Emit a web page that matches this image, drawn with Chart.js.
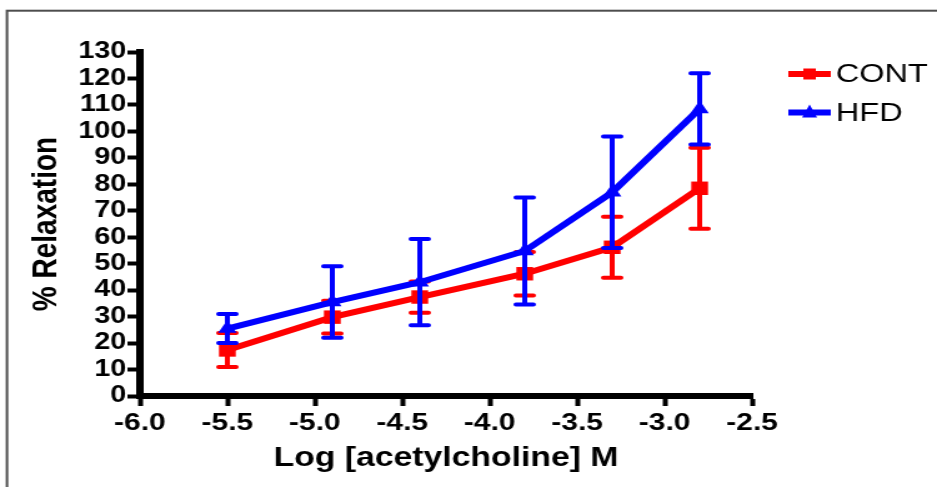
<!DOCTYPE html>
<html>
<head>
<meta charset="utf-8">
<script src="https://cdn.jsdelivr.net/npm/chart.js@4.4.1/dist/chart.umd.min.js"></script>
<style>
  html, body { margin: 0; padding: 0; background: #fff; }
</style>
</head>
<body>
<canvas id="c" width="750" height="487" style="width:937px;height:487px;display:block"></canvas>
<script>
// data (log molar concentration vs % relaxation, mean +/- SEM)
var logConc = [-5.5, -4.9, -4.4, -3.8, -3.3, -2.8];
var contMean = [17.4, 29.8, 37.4, 46.2, 56.2, 78.5];
var contSem = [6.4, 6.2, 5.9, 8.2, 11.5, 15.3];
var hfdMean = [25.5, 35.5, 43.0, 54.8, 77.0, 108.5];
var hfdSem = [5.5, 13.5, 16.3, 20.2, 21.1, 13.5];
var seriesNames = ['CONT', 'HFD'];

var fontFam = "'Liberation Sans', Arial, sans-serif";

function pts(means) {
    return logConc.map(function (x, i) { return { x: x, y: means[i] }; });
}

// frame round the figure (top and left edges only are visible)
var framePlugin = {
    id: 'frame',
    beforeDraw: function (chart) {
        var ctx = chart.ctx;
        ctx.save();
        ctx.strokeStyle = '#4d4d4d';
        ctx.lineWidth = 2;
        ctx.strokeRect(5.6, 10.7, chart.width + 20, chart.height + 20);
        ctx.restore();
    }
};

// error bars, drawn right after each dataset so HFD sits on top of CONT
var errorBars = {
    id: 'errorBars',
    afterDatasetDraw: function (chart, args) {
        var ds = chart.data.datasets[args.index];
        if (!ds.sem) return;
        var xs = chart.scales.x, ys = chart.scales.y, ctx = chart.ctx;
        ctx.save();
        ctx.strokeStyle = ds.borderColor;
        ds.data.forEach(function (p, i) {
            var px = xs.getPixelForValue(p.x);
            var top = ys.getPixelForValue(p.y + ds.sem[i]);
            var bot = ys.getPixelForValue(p.y - ds.sem[i]);
            ctx.lineCap = 'butt';
            ctx.lineWidth = 4;
            ctx.beginPath();
            ctx.moveTo(px, top);
            ctx.lineTo(px, bot);
            ctx.stroke();
            ctx.lineCap = 'round';
            ctx.lineWidth = 4;
            ctx.beginPath();
            ctx.moveTo(px - 7, top); ctx.lineTo(px + 7, top);
            ctx.moveTo(px - 7, bot); ctx.lineTo(px + 7, bot);
            ctx.stroke();
        });
        ctx.restore();
    }
};

// legend: line with marker, then label
var legendPlugin = {
    id: 'sideLegend',
    afterDraw: function (chart) {
        var ctx = chart.ctx;
        var rows = [74, 112.5];
        ctx.save();
        chart.data.datasets.forEach(function (ds, i) {
            var y = rows[i];
            ctx.strokeStyle = ds.borderColor;
            ctx.fillStyle = ds.borderColor;
            ctx.lineWidth = 6;
            ctx.beginPath();
            ctx.moveTo(631, y);
            ctx.lineTo(665, y);
            ctx.stroke();
            var cx = 648;
            if (ds.pointStyle === 'rect') {
                ctx.fillRect(cx - 5, y - 5.5, 10, 11);
            } else {
                ctx.beginPath();
                ctx.moveTo(cx, y - 8);
                ctx.lineTo(cx + 6, y + 5);
                ctx.lineTo(cx - 6, y + 5);
                ctx.closePath();
                ctx.fill();
            }
            ctx.fillStyle = '#000';
            ctx.font = '26px ' + fontFam;
            ctx.textBaseline = 'middle';
            ctx.textAlign = 'left';
            ctx.fillText(seriesNames[i], 669, y + 1);
        });
        ctx.restore();
    }
};

var ctx = document.getElementById('c').getContext('2d');
var grafico = new Chart(ctx, {
    type: 'scatter',
    data: {
        datasets: [{
            label: seriesNames[0],
            data: pts(contMean),
            sem: contSem,
            showLine: true,
            borderColor: '#ff0000',
            backgroundColor: '#ff0000',
            borderWidth: 6,
            pointStyle: 'rect',
            pointRadius: 9.5,
            pointBorderWidth: 0,
            order: 1,
            clip: false
        }, {
            label: seriesNames[1],
            data: pts(hfdMean),
            sem: hfdSem,
            showLine: true,
            borderColor: '#0000ff',
            backgroundColor: '#0000ff',
            borderWidth: 6,
            pointStyle: 'triangle',
            pointRadius: 8.5,
            pointBorderWidth: 0,
            order: 0,
            clip: false
        }]
    },
    options: {
        responsive: false,
        animation: false,
        events: [],
        layout: { padding: { top: 52, right: 148, bottom: 0, left: 0 } },
        plugins: {
            legend: { display: false },
            tooltip: { enabled: false }
        },
        scales: {
            x: {
                type: 'linear',
                min: -6,
                max: -2.5,
                afterFit: function (s) { s.height = 91; },
                ticks: {
                    stepSize: 0.5,
                    autoSkip: false,
                    maxRotation: 0,
                    padding: 3,
                    color: '#000',
                    font: { family: fontFam, size: 24, weight: 'bold' },
                    callback: function (v) { return v.toFixed(1); }
                },
                grid: { display: true, drawOnChartArea: false, drawTicks: true, tickLength: 10, tickWidth: 4, tickColor: '#000' },
                border: { display: true, width: 6, color: '#000' },
                title: {
                    display: true,
                    text: 'Log [acetylcholine] M',
                    color: '#000',
                    font: { family: fontFam, size: 27, weight: 'bold' },
                    padding: { top: 0, bottom: 12 }
                }
            },
            y: {
                min: 0,
                max: 130,
                afterFit: function (s) { s.width = 112; },
                ticks: {
                    stepSize: 10,
                    autoSkip: false,
                    padding: 1,
                    color: '#000',
                    font: { family: fontFam, size: 23, weight: 'bold' }
                },
                grid: { display: true, drawOnChartArea: false, drawTicks: true, tickLength: 10, tickWidth: 4, tickColor: '#000' },
                border: { display: true, width: 6, color: '#000' },
                title: {
                    display: true,
                    text: '% Relaxation',
                    color: '#000',
                    font: { family: fontFam, size: 28, weight: 'bold' },
                    padding: { top: 20, bottom: 0 }
                }
            }
        }
    },
    plugins: [framePlugin, errorBars, legendPlugin]
});
</script>
</body>
</html>
